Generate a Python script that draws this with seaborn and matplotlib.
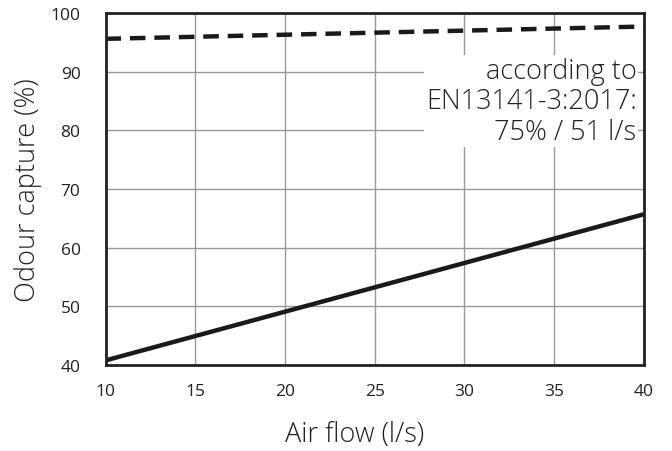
import pandas as pd
import seaborn as sns
import matplotlib.pyplot as plt

# values
air_flow = [10, 40]
capture_measured = [40.8, 65.7]
capture_limit = [95.6, 97.7]
x_ticks = [10, 15, 20, 25, 30, 35, 40]
y_ticks = [40, 50, 60, 70, 80, 90, 100]

sns.set_style('white')
plt.rcParams['font.family'] = ['Open Sans', 'DejaVu Sans']

fig, ax = plt.subplots(figsize=(6.72, 4.52), dpi=100)
fig.subplots_adjust(left=0.157, right=0.958, top=0.969, bottom=0.19)

df = pd.DataFrame({'air': air_flow, 'measured': capture_measured, 'limit': capture_limit})
sns.lineplot(ax=ax, data=df, x='air', y='measured', color='#1a1a1a', linewidth=3.2)
sns.lineplot(ax=ax, data=df, x='air', y='limit', color='#1a1a1a', linewidth=3.2,
             linestyle=(0, (3.5, 2)))

ax.set_xlim(10, 40)
ax.set_ylim(40, 100)
ax.set_xticks(x_ticks)
ax.set_yticks(y_ticks)
ax.grid(True, color='#999999', linewidth=1)
ax.set_axisbelow(True)
for s in ax.spines.values():
    s.set_color('#222222')
    s.set_linewidth(2)
ax.tick_params(length=0, labelsize=12.5, colors='#222222')
ax.tick_params(axis='x', pad=13)
ax.tick_params(axis='y', pad=18)
ax.set_xlabel('Air flow (l/s)', fontsize=19.5, fontweight='light', color='#222222')
ax.set_ylabel('Odour capture (%)', fontsize=19.5, fontweight='light', color='#222222', labelpad=6)
ax.xaxis.set_label_coords(0.462, -0.155)

ax.text(39.6, 85.0, 'according to\nEN13141-3:2017:\n75% / 51 l/s', ha='right', va='center',
        fontsize=19.5, fontweight='light', color='#222222', linespacing=1.12,
        bbox=dict(facecolor='white', edgecolor='none', pad=1))

plt.savefig('out.png', dpi=100)
